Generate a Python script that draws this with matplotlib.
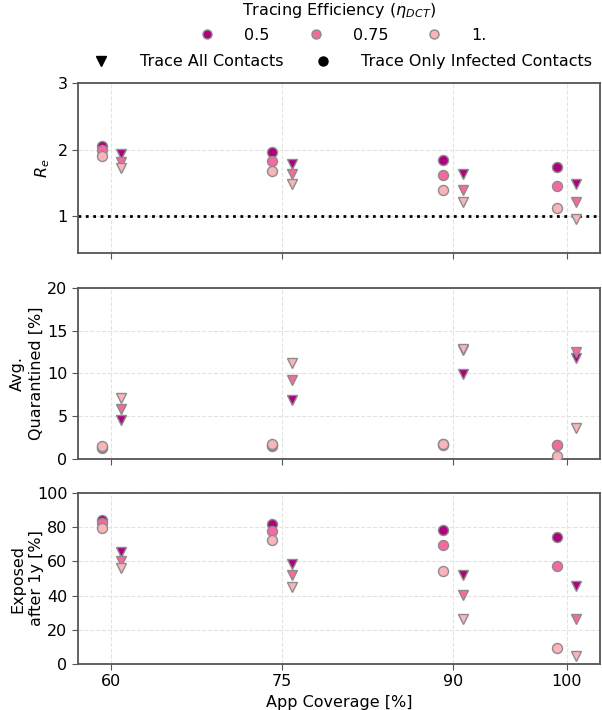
import matplotlib
matplotlib.use("Agg")
import matplotlib.pyplot as plt
from matplotlib.lines import Line2D
import numpy as np

coverage = [60, 75, 90, 100]
efficiencies = ["0.5", "0.75", "1."]
colors = ["#ae017e", "#f768a1", "#fbb4b9"]

# R_e
re_infected = {"0.5": [2.06, 1.97, 1.84, 1.74],
               "0.75": [1.99, 1.83, 1.62, 1.45],
               "1.": [1.90, 1.68, 1.40, 1.12]}
re_all = {"0.5": [1.94, 1.79, 1.63, 1.49],
          "0.75": [1.82, 1.64, 1.39, 1.21],
          "1.": [1.72, 1.49, 1.21, 0.96]}

# Avg. quarantined [%]
q_infected = {"0.5": [1.3, 1.5, 1.6, 1.6],
              "0.75": [1.4, 1.6, 1.7, 1.6],
              "1.": [1.5, 1.7, 1.7, 0.3]}
q_all = {"0.5": [4.6, 6.9, 9.9, 11.8],
         "0.75": [5.9, 9.2, 12.7, 12.5],
         "1.": [7.1, 11.2, 12.9, 3.6]}

# Exposed after 1y [%]
e_infected = {"0.5": [84.3, 81.9, 78.2, 74.3],
              "0.75": [82.3, 78.0, 69.4, 57.2],
              "1.": [79.8, 72.5, 54.3, 9.2]}
e_all = {"0.5": [65.3, 58.2, 51.9, 45.6],
         "0.75": [60.2, 51.8, 40.2, 26.5],
         "1.": [55.9, 45.3, 26.5, 4.5]}

ylabels = ["$R_e$", "Avg.\nQuarantined [%]", "Exposed\nafter 1y [%]"]
ylims = [(0.45, 3), (0, 20), (0, 100)]
yticks = [[1, 2, 3], [0, 5, 10, 15, 20], [0, 20, 40, 60, 80, 100]]

offset = 0.85
fs = 11.5
ms = 7.2
plt.rcParams['font.family'] = ['DejaVu Sans']
fig = plt.figure(figsize=(6.02, 7.10), dpi=100)
left, right = 0.1296, 0.9967
boxes = [(0.6437, 0.883), (0.3535, 0.5944), (0.0648, 0.3056)]
axes = []
for (b, t) in boxes:
    axes.append(fig.add_axes([left, b, right - left, t - b]))

datasets = [(re_infected, re_all), (q_infected, q_all), (e_infected, e_all)]
label_x = [-0.05, -0.066, -0.066]
x = np.array(coverage, dtype=float)
edge = "#8c8c8c"
for i, ax in enumerate(axes):
    inf, alld = datasets[i]
    for e, c in zip(efficiencies, colors):
        ax.plot(x - offset, inf[e], linestyle='none', marker='o', markersize=ms,
                markerfacecolor=c, markeredgecolor=edge, markeredgewidth=1.0, zorder=3)
    for e, c in zip(efficiencies, colors):
        ax.plot(x + offset, alld[e], linestyle='none', marker='v', markersize=ms,
                markerfacecolor=c, markeredgecolor=edge, markeredgewidth=1.0, zorder=3)
    ax.set_ylim(*ylims[i])
    ax.set_yticks(yticks[i])
    ax.set_xticks(coverage)
    ax.set_xlim(57.07, 102.93)
    ax.grid(True, linestyle='--', color='#e3e3e3', linewidth=0.8)
    ax.set_axisbelow(True)
    for s in ax.spines.values():
        s.set_color('#555555')
        s.set_linewidth(1.3)
    ax.tick_params(labelsize=fs, color='#555555', length=4)
    ax.set_ylabel(ylabels[i], fontsize=fs, linespacing=1.3)
    ax.yaxis.set_label_coords(label_x[i], 0.5)
    if i < 2:
        ax.set_xticklabels([])
    else:
        ax.set_xlabel("App Coverage [%]", fontsize=fs)

axes[0].axhline(1, color='black', linestyle=':', linewidth=2, zorder=2)

h1 = [Line2D([], [], linestyle='none', marker='o', markersize=6.5, markerfacecolor=c,
             markeredgecolor=edge, markeredgewidth=1.0) for c in colors]
leg1 = fig.legend(h1, efficiencies, title="Tracing Efficiency ($\\eta_{DCT}$)", ncol=3,
                  loc='upper center', bbox_to_anchor=(0.563, 1.012), frameon=False,
                  fontsize=fs, title_fontsize=fs, columnspacing=1.9, handletextpad=1.3,
                  borderaxespad=0.2)
h2 = [Line2D([], [], linestyle='none', marker='v', markersize=6.5, color='black'),
      Line2D([], [], linestyle='none', marker='o', markersize=6.5, color='black')]
leg2 = fig.legend(h2, ["Trace All Contacts", "Trace Only Infected Contacts"], ncol=2,
                  loc='upper center', bbox_to_anchor=(0.563, 0.937), frameon=False,
                  fontsize=fs, columnspacing=1.5, handletextpad=1.4, borderaxespad=0.2)

fig.savefig("out.png", dpi=100)
